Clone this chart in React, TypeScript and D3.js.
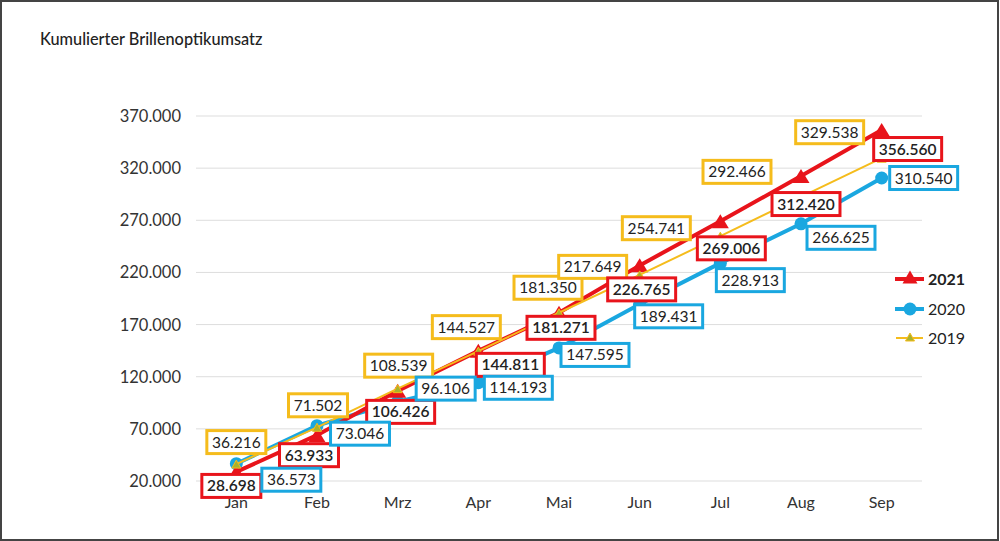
import React from 'react';
import * as d3 from 'd3';

const months = ['Jan', 'Feb', 'Mrz', 'Apr', 'Mai', 'Jun', 'Jul', 'Aug', 'Sep'];
const values2021 = [28698, 63933, 106426, 144811, 181271, 226765, 269006, 312420, 356560];
const values2020 = [36573, 73046, 96106, 114193, 147595, 189431, 228913, 266625, 310540];
const values2019 = [36216, 71502, 108539, 144527, 181350, 217649, 254741, 292466, 329538];
const yTicks = [20000, 70000, 120000, 170000, 220000, 270000, 320000, 370000];

// label box centre offsets (px) from the point, for layout only
const off2019 = [[0, -22], [1, -22], [1, -23], [-12, -24], [-11, -25], [-47, -8], [-64, -8], [-64, -25], [-52, -26]];
const off2021 = [[-5, 14], [-8, 20], [3, 21], [32, 14], [2, 15], [2, 24], [11, 27], [5, 28], [26, 19]];
const off2020 = [[55, 16], [43, 8], [48, -13], [40, 5], [36, 7], [29, 12], [30, 17], [40, 14], [42, 0]];

const RED = '#e8141b';
const BLUE = '#1aa7e0';
const YELLOW = '#f5bc1c';
const FONT = 'Lato, "Open Sans", sans-serif';

const fmt = d3.formatLocale({ decimal: ',', thousands: '.', grouping: [3], currency: ['', '€'] }).format(',d');

export default function App() {
  const W = 1000, H = 541;
  const x = d3.scalePoint<string>().domain(months).range([196, 922]).padding(0.5);
  const y = d3.scaleLinear().domain([20000, 370000]).range([481, 116]);
  const line = d3.line<number>().x((_, i) => x(months[i])!).y(d => y(d));

  const tri = (cx: number, cy: number, w: number, h: number) =>
    `M${cx - w / 2},${cy + h / 2}L${cx},${cy - h / 2}L${cx + w / 2},${cy + h / 2}Z`;

  const LFS = 15.5;
  const labelW = (s: string) => (s.replace('.', '').length * 0.58 + 0.26) * LFS + 10;

  const labels = (vals: number[], offs: number[][], color: string, bold: boolean, key: string) =>
    vals.map((v, i) => {
      const cx = x(months[i])! + offs[i][0];
      const cy = y(v) + offs[i][1];
      const t = fmt(v);
      const w = labelW(t);
      const h = 23;
      return (
        <g key={key + i}>
          <rect x={cx - w / 2} y={cy - h / 2} width={w} height={h} fill="#fff" stroke={color} strokeWidth={3} />
          <text x={cx} y={cy + 5.5} textAnchor="middle" fontSize={LFS} fontWeight={bold ? 600 : 400} fill="#222">{t}</text>
        </g>
      );
    });

  return (
    <svg width={W} height={H} style={{ position: 'absolute', left: 0, top: 0 }} fontFamily={FONT}>
      <rect x={0} y={0} width={W} height={H} fill="#fff" />
      <rect x={1} y={1} width={W - 3} height={H - 2} fill="none" stroke="#444" strokeWidth={2} />
      <text x={40} y={45} fontSize={16.3} fontWeight={500} fill="#222">Kumulierter Brillenoptikumsatz</text>

      {yTicks.map(t => (
        <g key={t}>
          <line x1={196} x2={922} y1={y(t)} y2={y(t)} stroke="#ddd" strokeWidth={1} />
          <text x={181} y={y(t) + 6} textAnchor="end" fontSize={16.5} fill="#333">{fmt(t)}</text>
        </g>
      ))}
      {months.map(m => (
        <text key={m} x={x(m)!} y={508} textAnchor="middle" fontSize={16} fill="#333">{m}</text>
      ))}

      <path d={line(values2020)!} fill="none" stroke={BLUE} strokeWidth={4} />
      {values2020.map((v, i) => <circle key={'b' + i} cx={x(months[i])!} cy={y(v)} r={6.5} fill={BLUE} />)}

      <path d={line(values2021)!} fill="none" stroke={RED} strokeWidth={4} />
      {values2021.map((v, i) => <path key={'r' + i} d={tri(x(months[i])!, y(v), 17, 14)} fill={RED} />)}

      <path d={line(values2019)!} fill="none" stroke={YELLOW} strokeWidth={2} />
      {values2019.map((v, i) => <path key={'y' + i} d={tri(x(months[i])!, y(v), 9, 8)} fill="#a9b22c" stroke={YELLOW} strokeWidth={1} />)}

      {labels(values2019, off2019, YELLOW, false, 'ly')}
      {labels(values2021, off2021, RED, true, 'lr')}
      {labels(values2020, off2020, BLUE, false, 'lb')}

      {/* legend */}
      <g>
        <line x1={895} x2={924} y1={279} y2={279} stroke={RED} strokeWidth={4} />
        <path d={tri(910, 277, 15, 13)} fill={RED} />
        <text x={928} y={285} fontSize={16} fontWeight={700} fill="#222">2021</text>
        <line x1={895} x2={924} y1={309} y2={309} stroke={BLUE} strokeWidth={4} />
        <circle cx={910} cy={309} r={6.5} fill={BLUE} />
        <text x={928} y={315} fontSize={16} fill="#222">2020</text>
        <line x1={896} x2={923} y1={338} y2={338} stroke={YELLOW} strokeWidth={2} />
        <path d={tri(910, 337, 9, 8)} fill="#a9b22c" stroke={YELLOW} strokeWidth={1} />
        <text x={928} y={344} fontSize={16} fill="#222">2019</text>
      </g>
    </svg>
  );
}
